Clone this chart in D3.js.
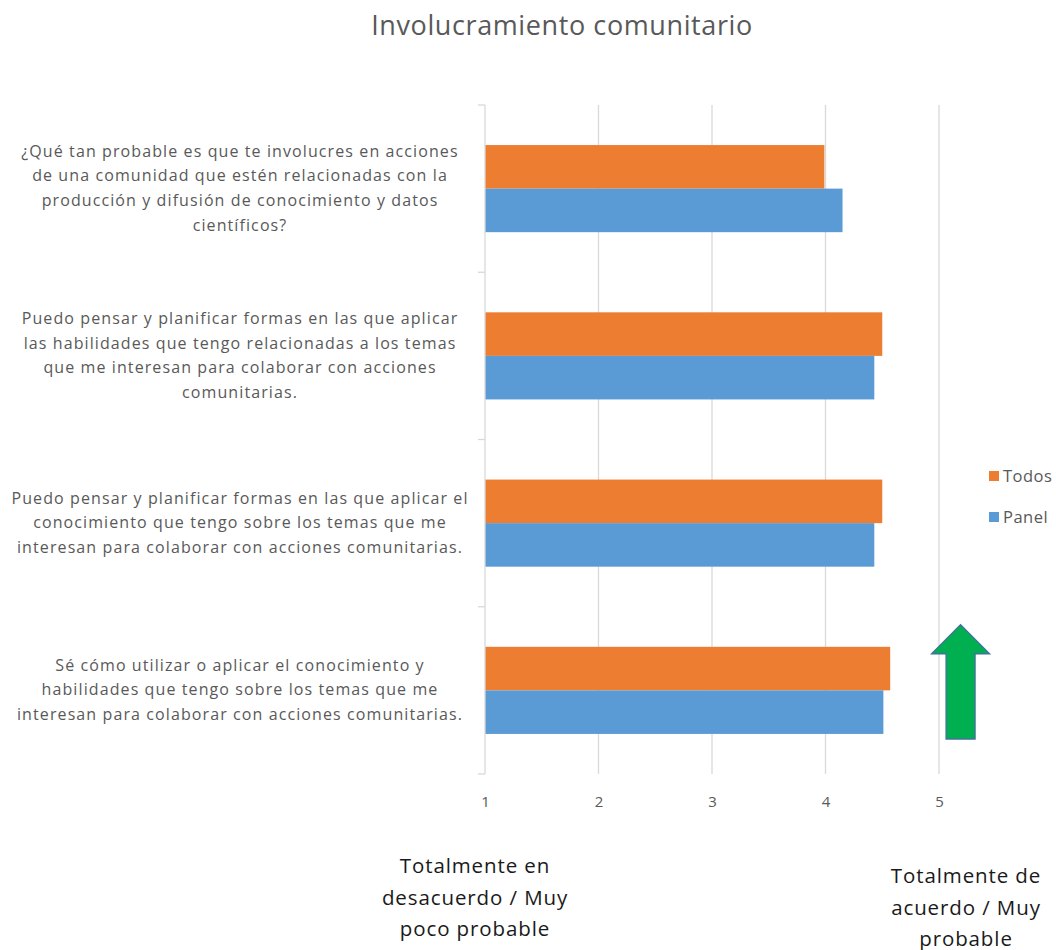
<!DOCTYPE html>
<html>
<head>
<meta charset="utf-8">
<script src="https://cdn.jsdelivr.net/npm/d3@7"></script>
<style>
  body { margin: 0; background: #fff; }
  svg { font-family: "Open Sans", "Noto Sans", sans-serif; }
</style>
</head>
<body>
<div class="chart"></div>
<script>
// question labels, one array of lines per category (top to bottom)
var questions = [
  ["¿Qué tan probable es que te involucres en acciones",
   "de una comunidad que estén relacionadas con la",
   "producción y difusión de conocimiento y datos",
   "científicos?"],
  ["Puedo pensar y planificar formas en las que aplicar",
   "las habilidades que tengo relacionadas a los temas",
   "que me interesan para colaborar con acciones",
   "comunitarias."],
  ["Puedo pensar y planificar formas en las que aplicar el",
   "conocimiento que tengo sobre los temas que me",
   "interesan para colaborar con acciones comunitarias."],
  ["Sé cómo utilizar o aplicar el conocimiento y",
   "habilidades que tengo sobre los temas que me",
   "interesan para colaborar con acciones comunitarias."]
];
var seriesNames = ["Todos", "Panel"];
var todos = [3.99, 4.5, 4.5, 4.57];
var panel = [4.15, 4.43, 4.43, 4.51];
var xTicks = [1, 2, 3, 4, 5];
var lowLabel = ["Totalmente en", "desacuerdo / Muy", "poco probable"];
var highLabel = ["Totalmente de", "acuerdo / Muy", "probable"];
var colors = { Todos: "#ed7d31", Panel: "#5b9bd5" };

var svgWidth = 1056, svgHeight = 950;
var margin = { top: 105, bottom: 176, left: 485, right: 117 };
var width = svgWidth - margin.left - margin.right;
var height = svgHeight - margin.top - margin.bottom;

var svg = d3.select(".chart").append("svg")
  .attr("width", svgWidth)
  .attr("height", svgHeight);

svg.append("text")
  .attr("x", 562)
  .attr("y", 35)
  .attr("text-anchor", "middle")
  .attr("font-size", "27px")
  .attr("letter-spacing", "0.6px")
  .attr("fill", "#595959")
  .text("Involucramiento comunitario");

var chartGroup = svg.append("g")
  .attr("transform", `translate(${margin.left}, ${margin.top})`);

var idx = questions.map((q, i) => i);

var xScale = d3.scaleLinear().domain([1, 5]).range([0, width]);
var yScale = d3.scaleBand().domain(idx).range([0, height]).padding(0);
var ySub = d3.scaleBand().domain(seriesNames)
  .range([0, yScale.bandwidth()])
  .paddingInner(0).paddingOuter(0.92);

// gridlines
chartGroup.selectAll(".grid")
  .data(xTicks.slice(1))
  .enter().append("line")
  .attr("x1", d => xScale(d)).attr("x2", d => xScale(d))
  .attr("y1", 0).attr("y2", height)
  .attr("stroke", "#d9d9d9").attr("stroke-width", 1.3);

// x axis labels
var xAxis = d3.axisBottom(xScale).tickValues(xTicks).tickSize(0).tickPadding(22)
  .tickFormat(d3.format("d"));
var xg = chartGroup.append("g")
  .attr("transform", `translate(0, ${height})`)
  .call(xAxis);
xg.select(".domain").remove();
xg.selectAll("text").attr("font-size", "15px").attr("fill", "#595959")
  .attr("font-family", "Open Sans, sans-serif");

// bars
var rows = idx.map(i => ({ i: i, Todos: todos[i], Panel: panel[i] }));
var groups = chartGroup.selectAll(".cat")
  .data(rows)
  .enter().append("g")
  .attr("transform", d => `translate(0, ${yScale(d.i)})`);

groups.selectAll("rect")
  .data(d => seriesNames.map(s => ({ s: s, v: d[s] })))
  .enter().append("rect")
  .attr("x", 0)
  .attr("y", d => ySub(d.s))
  .attr("width", d => xScale(d.v))
  .attr("height", ySub.bandwidth())
  .attr("fill", d => colors[d.s]);

// y axis line with band ticks
var bounds = idx.map(i => yScale(i)).concat([height]);
chartGroup.append("line")
  .attr("x1", 0).attr("x2", 0).attr("y1", 0).attr("y2", height)
  .attr("stroke", "#d9d9d9").attr("stroke-width", 1.3);
chartGroup.selectAll(".ytick")
  .data(bounds)
  .enter().append("line")
  .attr("x1", -7).attr("x2", 0)
  .attr("y1", d => d).attr("y2", d => d)
  .attr("stroke", "#d9d9d9").attr("stroke-width", 1.3);

// category labels
groups.append("text")
  .attr("text-anchor", "middle")
  .attr("font-size", "16px")
  .attr("letter-spacing", "1.1px")
  .attr("fill", "#595959")
  .each(function(d) {
    var lines = questions[d.i];
    var lh = 24.6;
    var y0 = yScale.bandwidth() / 2 - (lines.length - 1) * lh / 2 + 5;
    d3.select(this).selectAll("tspan")
      .data(lines)
      .enter().append("tspan")
      .attr("x", -245)
      .attr("y", (l, k) => y0 + k * lh)
      .text(l => l);
  });

// legend
var legend = svg.append("g").attr("transform", "translate(989, 471)");
seriesNames.forEach(function(s, k) {
  legend.append("rect")
    .attr("x", 0).attr("y", k * 41)
    .attr("width", 10).attr("height", 10)
    .attr("fill", colors[s]);
  legend.append("text")
    .attr("x", 14).attr("y", k * 41 + 11)
    .attr("font-size", "16.5px")
    .attr("letter-spacing", "0.5px")
    .attr("fill", "#595959")
    .text(s);
});

// green arrow next to the last category
var arrowX = xScale(5.19);
var arrowTop = yScale(3) + 18;
var arrowBot = yScale(3) + yScale.bandwidth() - 35;
var hw = 29, sw = 14.5, hh = 29;
chartGroup.append("path")
  .attr("d", `M${arrowX},${arrowTop} L${arrowX + hw},${arrowTop + hh} L${arrowX + sw},${arrowTop + hh} L${arrowX + sw},${arrowBot}
    L${arrowX - sw},${arrowBot} L${arrowX - sw},${arrowTop + hh} L${arrowX - hw},${arrowTop + hh} Z`)
  .attr("fill", "#00b050")
  .attr("stroke", "#41719c")
  .attr("stroke-width", 1.3);

// scale end labels
function endLabel(lines, cx, y) {
  var t = svg.append("text")
    .attr("text-anchor", "middle")
    .attr("font-size", "20.5px")
    .attr("letter-spacing", "0.9px")
    .attr("fill", "#1a1a1a");
  lines.forEach(function(l, k) {
    t.append("tspan").attr("x", cx).attr("y", y + k * 31.5).text(l);
  });
}
endLabel(lowLabel, 475, 873);
endLabel(highLabel, 966, 883);
</script>
</body>
</html>
